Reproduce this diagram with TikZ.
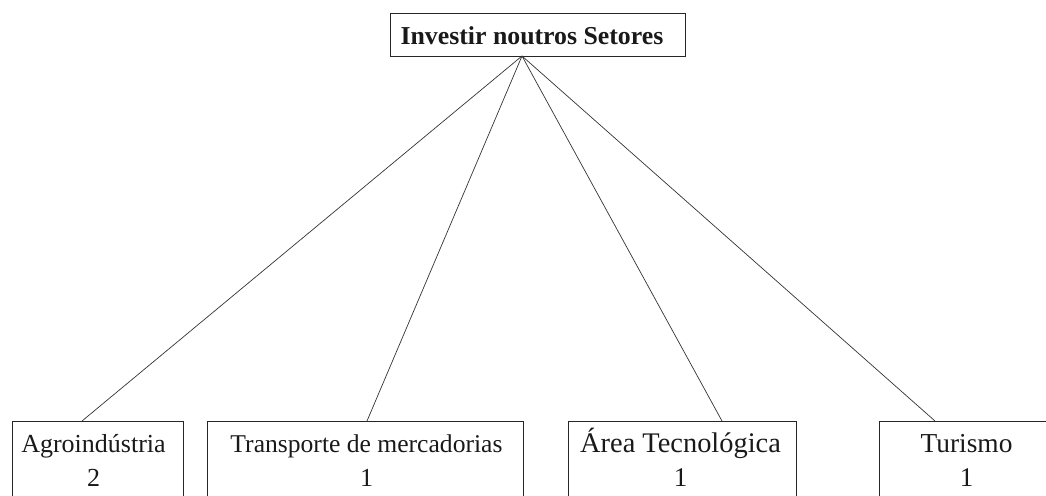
\documentclass[tikz,border=0pt]{standalone}
\usepackage{fontspec}
\setmainfont{Liberation Serif}
\usetikzlibrary{calc}
\tikzset{
  box/.style={draw=black!85, line width=1pt, rectangle, inner sep=0pt, anchor=north west},
  conn/.style={draw=black!80, line width=0.7pt},
  lbl/.style={anchor=base, inner sep=0pt, text=black!90},
}
\begin{document}
\begin{tikzpicture}[x=1pt, y=-1pt]
\useasboundingbox (0,0) rectangle (1046,495);
\clip (0,0) rectangle (1046,495);
% top
\node[box, minimum width=295pt, minimum height=43pt] (topbox) at (390,13) {};
\node[lbl, font=\fontsize{25.8}{30}\selectfont\bfseries] (toptext) at (532,45) {Investir noutros Setores};
\coordinate (hub) at (522,56);
% bottom boxes
\node[box, minimum width=171pt, minimum height=120pt] (agro) at (12,421) {};
\node[lbl, font=\fontsize{26}{30}\selectfont] (agroA) at (93.5,452) {Agroindústria};
\node[lbl, font=\fontsize{26}{30}\selectfont] (agroB) at (93.5,486) {2};
\node[box, minimum width=316pt, minimum height=120pt] (trans) at (207,421) {};
\node[lbl, font=\fontsize{25.6}{30}\selectfont] (transA) at (366.5,452) {Transporte de mercadorias};
\node[lbl, font=\fontsize{26}{30}\selectfont] (transB) at (366.5,486) {1};
\node[box, minimum width=228pt, minimum height=120pt] (area) at (568,421) {};
\node[lbl, font=\fontsize{28.4}{32}\selectfont] (areaA) at (680.5,452) {Área Tecnológica};
\node[lbl, font=\fontsize{27}{32}\selectfont] (areaB) at (680.5,486) {1};
\node[box, minimum width=220pt, minimum height=120pt] (tur) at (879,421) {};
\node[lbl, font=\fontsize{27.4}{32}\selectfont] (turA) at (966.5,452) {Turismo};
\node[lbl, font=\fontsize{27}{32}\selectfont] (turB) at (966.5,486) {1};
% connectors
\draw[conn] (hub) -- ($(agro.north west)+(70,0)$);
\draw[conn] (hub) -- ($(trans.north west)+(160,0)$);
\draw[conn] (hub) -- ($(area.north west)+(154,0)$);
\draw[conn] (hub) -- ($(tur.north west)+(56,0)$);
\end{tikzpicture}
\end{document}
